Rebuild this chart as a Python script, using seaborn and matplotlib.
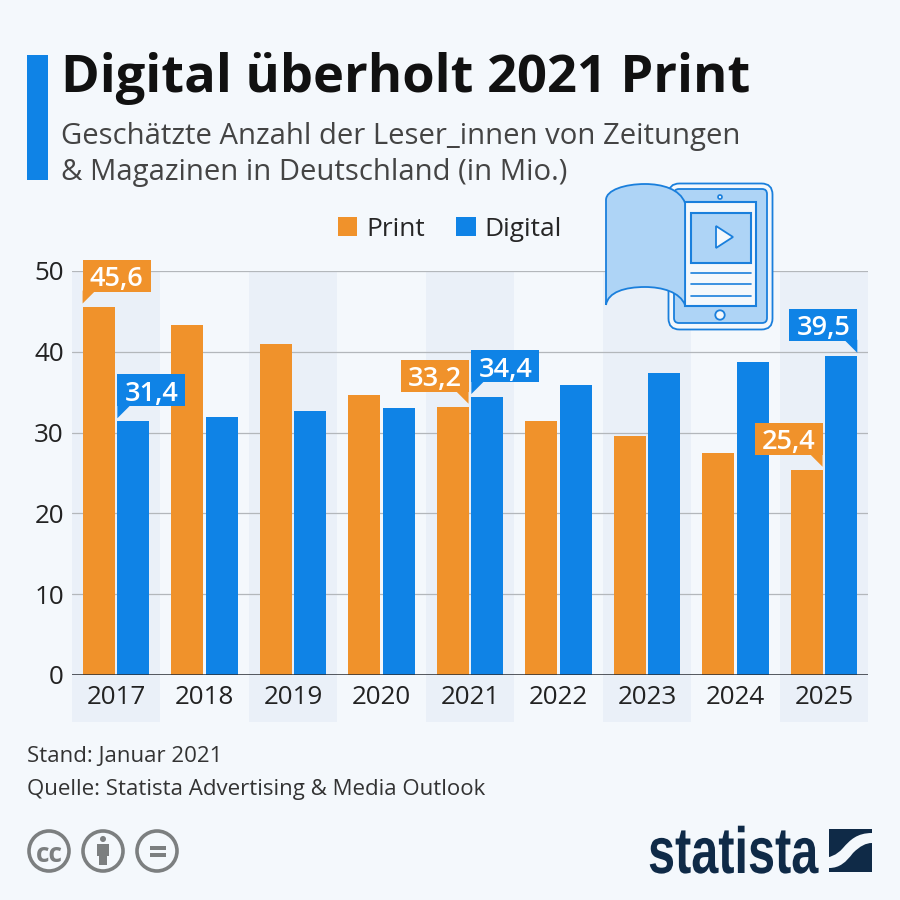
import matplotlib
matplotlib.use('Agg')
import matplotlib.pyplot as plt
import matplotlib.patches as mpatches
from matplotlib.patheffects import AbstractPathEffect
from matplotlib.path import Path
from matplotlib.transforms import Affine2D
import pandas as pd
import seaborn as sns

years = ['2017', '2018', '2019', '2020', '2021', '2022', '2023', '2024', '2025']
print_readers = [45.6, 43.3, 41.0, 34.6, 33.2, 31.4, 29.6, 27.5, 25.4]
digital_readers = [31.4, 31.9, 32.7, 33.0, 34.4, 35.9, 37.4, 38.7, 39.5]
y_ticks = [0, 10, 20, 30, 40, 50]

BG = '#f4f8fc'
BAND = '#eaf0f8'
ORANGE = '#f0922b'
BLUE = '#0f83e6'
NAVY = '#0f2a47'
ICON = '#1a7fdc'
ICON_FILL = '#aed4f6'
GREY = '#7c7f80'


class Condense(AbstractPathEffect):
    # squeeze text horizontally around x0, no narrow bold font is installed
    def __init__(self, factor, x0):
        super().__init__()
        self.factor = factor
        self.x0 = x0

    def draw_path(self, renderer, gc, tpath, affine, rgbFace=None):
        squeeze = Affine2D().translate(-self.x0, 0).scale(self.factor, 1).translate(self.x0, 0)
        renderer.draw_path(gc, tpath, affine + squeeze, rgbFace)


def draw_callout(ov, ax, bar, value, side, color):
    # label box sits above the bar, pointer touches the bar corner
    pts = ax.transData.transform([(bar.get_x(), bar.get_height()),
                                  (bar.get_x() + bar.get_width(), bar.get_height())])
    left_px, right_px = pts[0][0], pts[1][0]
    tip_y = 900 - pts[0][1] - 3
    edge = left_px if side == 'left' else right_px
    sign = 1 if side == 'left' else -1
    x0 = edge if side == 'left' else edge - 68
    ov.add_patch(mpatches.Rectangle((x0, tip_y - 44), 68, 32, color=color, lw=0))
    ov.add_patch(mpatches.Polygon([(edge, tip_y - 13), (edge, tip_y),
                                   (edge + sign * 13, tip_y - 13)], color=color, lw=0))
    ov.text(x0 + 34, tip_y - 28, f'{value:.1f}'.replace('.', ','), color='white',
            fontsize=19.5, fontweight='semibold', ha='center', va='center_baseline')


def draw_icon(ov):
    ov.add_patch(mpatches.FancyBboxPatch((668.5, 183.5), 104, 146, boxstyle='round,pad=0,rounding_size=11',
                                         fc=BG, ec=ICON, lw=1.3))
    ov.add_patch(mpatches.FancyBboxPatch((674, 189), 93, 134, boxstyle='round,pad=0,rounding_size=5',
                                         fc=ICON_FILL, ec=ICON, lw=1.3))
    ov.add_patch(mpatches.Rectangle((685, 202), 71, 104, fc=BG, ec=ICON, lw=1.5))
    ov.add_patch(mpatches.Rectangle((691, 213), 60, 50, fc=ICON_FILL, ec=ICON, lw=1.5))
    ov.add_patch(mpatches.Polygon([(716, 226), (733, 237), (716, 248)], fc=BG, ec=ICON, lw=1.3))
    for line_y in [273, 284, 296]:
        ov.plot([691, 751], [line_y, line_y], color=ICON, lw=1.2)
    ov.add_patch(mpatches.Circle((720, 315), 4.7, fc=BG, ec=ICON, lw=1.3))
    ov.add_patch(mpatches.Circle((720, 197), 2, fc=BG, ec=ICON, lw=1.2))
    book = Path([(606, 305), (606, 200), (606, 190), (625, 184), (645, 184),
                 (662, 184), (680, 189), (685, 203), (685, 305), (680, 292),
                 (662, 287), (645, 287), (625, 287), (608, 292), (606, 305)],
                [Path.MOVETO, Path.LINETO, Path.CURVE4, Path.CURVE4, Path.CURVE4,
                 Path.CURVE4, Path.CURVE4, Path.CURVE4, Path.LINETO, Path.CURVE4,
                 Path.CURVE4, Path.CURVE4, Path.CURVE4, Path.CURVE4, Path.CURVE4])
    ov.add_patch(mpatches.PathPatch(book, fc=ICON_FILL, ec=ICON, lw=1.3, zorder=3))


def draw_cc_icons(ov):
    for cx in [49, 103, 157]:
        ov.add_patch(mpatches.Circle((cx, 851), 20, fc='none', ec=GREY, lw=2.6))
    ov.text(49, 851, 'cc', color=GREY, fontsize=19, fontweight='bold', ha='center',
            va='center_baseline')
    ov.add_patch(mpatches.Circle((103, 839), 3, color=GREY, lw=0))
    ov.add_patch(mpatches.Polygon([(97, 844), (109, 844), (109, 856), (107, 856), (107, 865),
                                   (99, 865), (99, 856), (97, 856)], color=GREY, lw=0))
    for bar_y in [847.5, 854.5]:
        ov.add_patch(mpatches.Rectangle((150, bar_y - 1.5), 16, 3.5, color=GREY, lw=0))


def draw_logo(ov):
    logo = ov.text(648, 873, 'statista', color=NAVY, fontsize=47, fontweight='bold',
                   family='Liberation Sans', ha='left', va='baseline')
    logo.set_path_effects([Condense(0.745, 648)])
    upper = Path([(829, 829), (872, 829), (872, 833), (857, 833), (850, 840), (843, 848),
                  (836, 856), (829, 857), (829, 857), (829, 829)],
                 [Path.MOVETO, Path.LINETO, Path.LINETO, Path.CURVE4, Path.CURVE4, Path.CURVE4,
                  Path.CURVE4, Path.CURVE4, Path.LINETO, Path.CLOSEPOLY])
    lower = Path([(872, 872), (829, 872), (829, 868), (840, 868), (846, 862), (853, 853),
                  (860, 846), (866, 843), (872, 843), (872, 872)],
                 [Path.MOVETO, Path.LINETO, Path.LINETO, Path.CURVE4, Path.CURVE4, Path.CURVE4,
                  Path.CURVE4, Path.CURVE4, Path.CURVE4, Path.CLOSEPOLY])
    ov.add_patch(mpatches.PathPatch(upper, color=NAVY, lw=0))
    ov.add_patch(mpatches.PathPatch(lower, color=NAVY, lw=0))


def main():
    sns.set_theme(style='white')
    plt.rcParams['font.family'] = ['Open Sans', 'DejaVu Sans']

    data = pd.DataFrame({
        'Jahr': years * 2,
        'Leser': print_readers + digital_readers,
        'Typ': ['Print'] * len(years) + ['Digital'] * len(years),
    })

    fig = plt.figure(figsize=(9, 9), dpi=100, facecolor=BG)
    ax = fig.add_axes([71.7 / 900, 1 - 675 / 900, 796.5 / 900, 404 / 900], facecolor=BG)
    sns.barplot(data=data, x='Jahr', y='Leser', hue='Typ', hue_order=['Print', 'Digital'],
                palette=[ORANGE, BLUE], width=0.785, gap=0.08, saturation=1, linewidth=0,
                ax=ax, zorder=3)

    ax.set_xlim(-0.5, len(years) - 0.5)
    ax.set_ylim(0, 50)
    ax.set_yticks(y_ticks)
    ax.set_xlabel('')
    ax.set_ylabel('')
    ax.tick_params(axis='both', length=0, labelsize=18.7, labelcolor='#222222')
    ax.tick_params(axis='x', pad=7)
    ax.tick_params(axis='y', pad=5.5)
    sns.despine(ax=ax, left=True, bottom=True)
    ax.grid(axis='y', color='#b3b7bb', lw=0.9, zorder=1)
    ax.set_axisbelow(True)

    # alternating bands run down behind the year labels
    for i in range(0, len(years), 2):
        ax.add_patch(mpatches.Rectangle((i - 0.5, -47 / 404), 1, 1 + 47 / 404, fc=BAND, lw=0,
                                        transform=ax.get_xaxis_transform(), clip_on=False, zorder=0))
    ax.axhline(0, color='#2c3036', lw=1.1, zorder=4)

    handles, labels = ax.get_legend_handles_labels()
    ax.legend(handles, labels, ncol=2, frameon=False, fontsize=18.9, loc='center',
              bbox_to_anchor=(450 / 900, 1 - 229 / 900), bbox_transform=fig.transFigure,
              handlelength=0.73, handleheight=0.73, handletextpad=0.34, columnspacing=1.2,
              borderpad=0, borderaxespad=0)

    # overlay in picture pixels for title block and decorations
    ov = fig.add_axes([0, 0, 1, 1], zorder=5)
    ov.set_xlim(0, 900)
    ov.set_ylim(900, 0)
    ov.axis('off')

    ov.add_patch(mpatches.Rectangle((27, 55), 21, 125, color=BLUE, lw=0))
    ov.text(61, 92, 'Digital überholt 2021 Print', fontsize=37.7, fontweight='bold', color='#111111',
            ha='left', va='baseline')
    ov.text(61, 144, 'Geschätzte Anzahl der Leser_innen von Zeitungen', fontsize=21.1,
            color='#444444', ha='left', va='baseline')
    ov.text(61, 180, '& Magazinen in Deutschland (in Mio.)', fontsize=21.1,
            color='#444444', ha='left', va='baseline')
    ov.text(27, 762, 'Stand: Januar 2021', fontsize=16, color='#333333', ha='left', va='baseline')
    ov.text(27, 795, 'Quelle: Statista Advertising & Media Outlook', fontsize=16, color='#333333',
            ha='left', va='baseline')

    draw_icon(ov)
    draw_cc_icons(ov)
    draw_logo(ov)

    print_bars = ax.containers[0]
    digital_bars = ax.containers[1]
    draw_callout(ov, ax, print_bars[0], print_readers[0], 'left', ORANGE)
    draw_callout(ov, ax, digital_bars[0], digital_readers[0], 'left', BLUE)
    draw_callout(ov, ax, print_bars[4], print_readers[4], 'right', ORANGE)
    draw_callout(ov, ax, digital_bars[4], digital_readers[4], 'left', BLUE)
    draw_callout(ov, ax, print_bars[8], print_readers[8], 'right', ORANGE)
    draw_callout(ov, ax, digital_bars[8], digital_readers[8], 'right', BLUE)

    fig.savefig('out.png', dpi=100, facecolor=BG)


if __name__ == "__main__":
    main()
